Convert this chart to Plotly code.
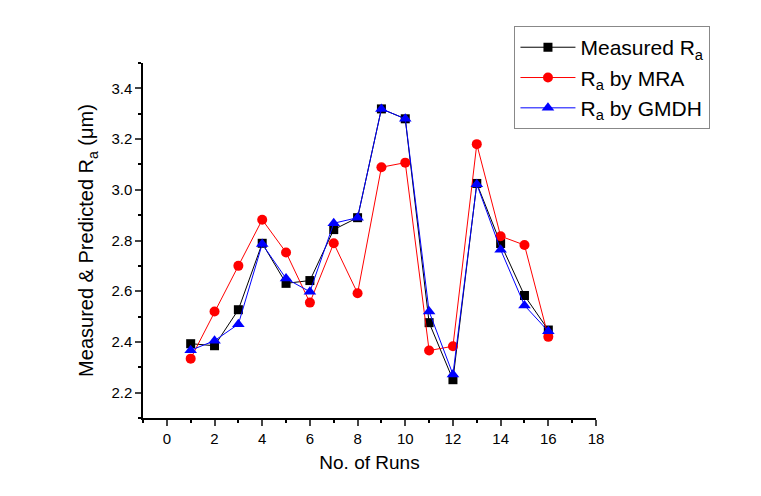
import plotly.graph_objects as go

runs = list(range(1, 17))
measured = [2.393, 2.385, 2.527, 2.789, 2.631, 2.642, 2.843, 2.890, 3.319, 3.280, 2.476, 2.251, 3.025, 2.788, 2.583, 2.447]
mra = [2.334, 2.520, 2.700, 2.882, 2.753, 2.555, 2.789, 2.592, 3.089, 3.107, 2.366, 2.383, 3.180, 2.817, 2.782, 2.420]
gmdh = [2.367, 2.405, 2.470, 2.786, 2.650, 2.598, 2.868, 2.890, 3.319, 3.280, 2.520, 2.272, 3.022, 2.764, 2.544, 2.442]

x_ticks = list(range(0, 19, 2))
y_ticks = [2.2, 2.4, 2.6, 2.8, 3.0, 3.2, 3.4]

fig = go.Figure()
fig.add_trace(go.Scatter(x=runs, y=measured, mode="lines+markers", name="Measured R<sub>a</sub>",
                         line=dict(color="black", width=1),
                         marker=dict(symbol="square", size=9, color="black")))
fig.add_trace(go.Scatter(x=runs, y=mra, mode="lines+markers", name="R<sub>a</sub> by MRA",
                         line=dict(color="red", width=1),
                         marker=dict(symbol="circle", size=10, color="red")))
fig.add_trace(go.Scatter(x=runs, y=gmdh, mode="lines+markers", name="R<sub>a</sub> by GMDH",
                         line=dict(color="blue", width=1),
                         marker=dict(symbol="triangle-up", size=11, color="blue")))

font = "Liberation Sans, Arial, sans-serif"
fig.update_layout(
    width=761, height=496,
    margin=dict(l=143, r=165, t=63, b=78, autoexpand=False),
    paper_bgcolor="white", plot_bgcolor="white",
    font=dict(family=font, color="black", size=14),
    showlegend=True,
    legend=dict(x=0.82, xanchor="left", y=1.104, yanchor="top",
                xref="paper", yref="paper",
                bordercolor="#888", borderwidth=1, bgcolor="white",
                font=dict(size=21, family=font), itemwidth=55,
                tracegroupgap=0),
    xaxis=dict(range=[-1, 18], tickvals=x_ticks, ticks="outside", ticklen=6, tickwidth=1.5,
               showline=True, linecolor="black", linewidth=1.5, showgrid=False, zeroline=False,
               tickfont=dict(size=15),
               minor=dict(ticks="outside", dtick=1, tick0=0, ticklen=3, tickwidth=1.5, tickcolor="black"),
               title=dict(text="No. of Runs", font=dict(size=19), standoff=10)),
    yaxis=dict(range=[2.1, 3.5], tickvals=y_ticks, tickformat=".1f", ticks="outside", ticklen=6, tickwidth=1.5,
               showline=True, linecolor="black", linewidth=1.5, showgrid=False, zeroline=False,
               tickfont=dict(size=15),
               minor=dict(ticks="outside", dtick=0.1, tick0=2.1, ticklen=3, tickwidth=1.5, tickcolor="black"),
               title=dict(text="Measured & Predicted R<sub>a</sub> (μm)", font=dict(size=20), standoff=12)),
)
fig.write_html("out.html")
